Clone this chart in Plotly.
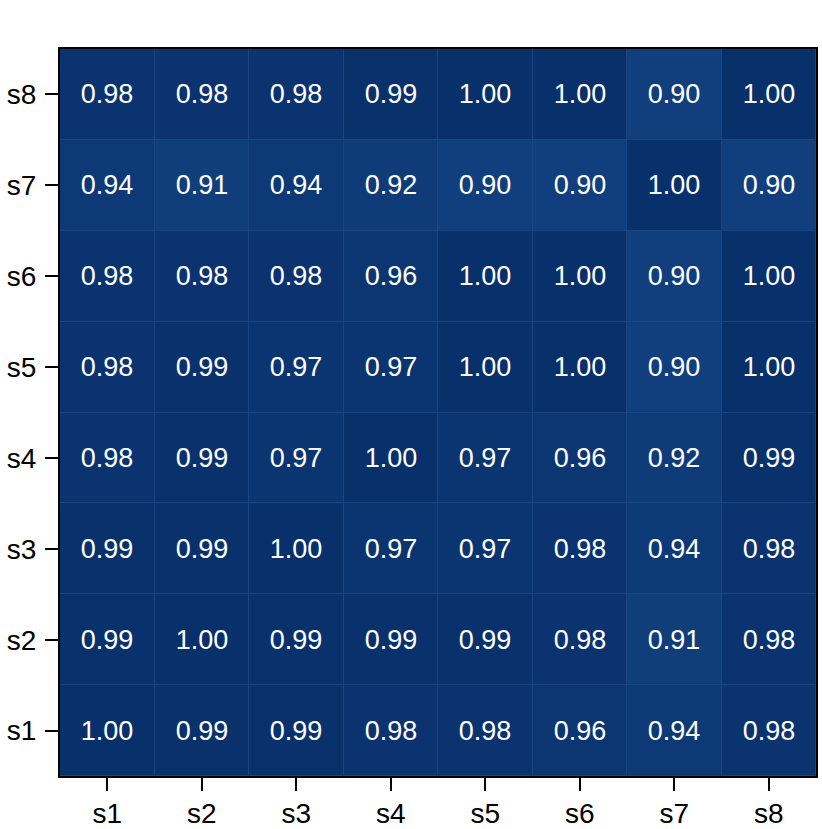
import plotly.graph_objects as go

labels = ["s1", "s2", "s3", "s4", "s5", "s6", "s7", "s8"]

# rows from s1 (bottom) to s8 (top), columns s1..s8
similarity = [
    [1.00, 0.99, 0.99, 0.98, 0.98, 0.96, 0.94, 0.98],
    [0.99, 1.00, 0.99, 0.99, 0.99, 0.98, 0.91, 0.98],
    [0.99, 0.99, 1.00, 0.97, 0.97, 0.98, 0.94, 0.98],
    [0.98, 0.99, 0.97, 1.00, 0.97, 0.96, 0.92, 0.99],
    [0.98, 0.99, 0.97, 0.97, 1.00, 1.00, 0.90, 1.00],
    [0.98, 0.98, 0.98, 0.96, 1.00, 1.00, 0.90, 1.00],
    [0.94, 0.91, 0.94, 0.92, 0.90, 0.90, 1.00, 0.90],
    [0.98, 0.98, 0.98, 0.99, 1.00, 1.00, 0.90, 1.00],
]

text = [[f"{v:.2f}" for v in row] for row in similarity]

fig = go.Figure(go.Heatmap(
    z=similarity,
    x=labels,
    y=labels,
    text=text,
    texttemplate="%{text}",
    textfont=dict(color="white", size=27, family="Liberation Sans, Arial, sans-serif"),
    colorscale=[[0, "#113f7d"], [1, "#08306b"]],
    zmin=0.90,
    zmax=1.00,
    showscale=False,
    xgap=1,
    ygap=1,
    hoverinfo="skip",
))

axis_common = dict(
    showline=True,
    linecolor="black",
    linewidth=2,
    mirror=True,
    ticks="outside",
    ticklen=13,
    tickwidth=2,
    tickcolor="black",
    showgrid=False,
    zeroline=False,
    automargin=False,
    tickfont=dict(size=28, color="black", family="Liberation Sans, Arial, sans-serif"),
)

fig.update_layout(
    width=822,
    height=829,
    margin=dict(l=60, r=6, t=49, b=53),
    paper_bgcolor="white",
    plot_bgcolor="#1a4582",
    xaxis=dict(axis_common, ticklabelstandoff=-2),
    yaxis=dict(axis_common, ticklabelstandoff=3),
)

# drop the browser's default body margin so the figure fills the window
fig.write_html(
    "out.html",
    config={"displayModeBar": False},
    post_script="document.body.style.margin='0';",
)
